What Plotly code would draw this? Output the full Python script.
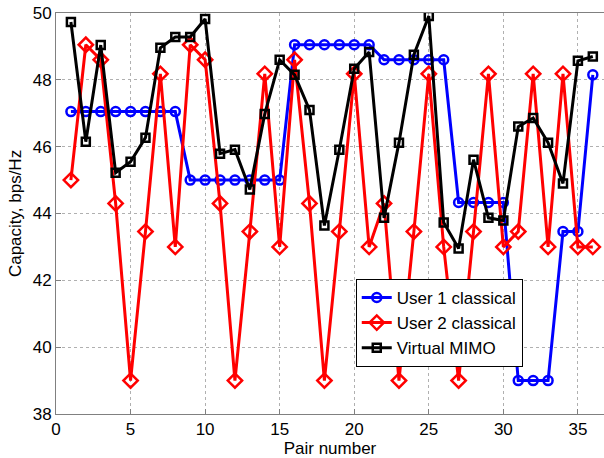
import plotly.graph_objects as go

pairs = list(range(1, 37))

user1 = [47.05, 47.05, 47.05, 47.05, 47.05, 47.05, 47.05, 47.05,
         45.0, 45.0, 45.0, 45.0, 45.0, 45.0, 45.0,
         49.05, 49.05, 49.05, 49.05, 49.05, 49.05,
         48.6, 48.6, 48.6, 48.6, 48.6,
         44.33, 44.33, 44.33, 44.33,
         39.0, 39.0, 39.0,
         43.46, 43.46, 48.15]

user2 = [45.0, 49.05, 48.6, 44.3, 39.0, 43.46, 48.18, 43.0,
         49.05, 48.6, 44.3, 39.0, 43.46, 48.18, 43.0,
         48.6, 44.3, 39.0, 43.46, 48.18, 43.0,
         44.3, 39.0, 43.46, 48.18, 43.0,
         39.0, 43.46, 48.18, 43.0,
         43.46, 48.18, 43.0, 48.18, 43.0, 43.0]

vmimo = [49.73, 46.15, 49.04, 45.22, 45.55, 46.27, 48.96, 49.28,
         49.28, 49.82, 45.79, 45.91, 44.72, 46.98, 48.6,
         48.15, 47.1, 43.64, 45.91, 48.33, 48.83,
         43.87, 46.12, 48.75, 49.91, 43.73,
         42.95, 45.61, 43.87, 43.79,
         46.6, 46.86, 46.12, 44.9, 48.57, 48.7]

series_names = ["User 1 classical", "User 2 classical", "Virtual MIMO"]
x_ticks = [0, 5, 10, 15, 20, 25, 30, 35]
y_ticks = [38, 40, 42, 44, 46, 48, 50]

font_family = "Liberation Sans, Arial, Helvetica, sans-serif"

fig = go.Figure()
fig.add_trace(go.Scatter(
    x=pairs, y=user1, name=series_names[0], mode="lines+markers",
    line=dict(color="#0000ff", width=3),
    marker=dict(symbol="circle-open", size=9, color="#0000ff", line=dict(width=2.5)),
))
fig.add_trace(go.Scatter(
    x=pairs, y=user2, name=series_names[1], mode="lines+markers",
    line=dict(color="#ff0000", width=3),
    marker=dict(symbol="diamond-open", size=11, color="#ff0000", line=dict(width=2.5)),
))
fig.add_trace(go.Scatter(
    x=pairs, y=vmimo, name=series_names[2], mode="lines+markers",
    line=dict(color="#000000", width=3),
    marker=dict(symbol="square-open", size=8, color="#000000", line=dict(width=2.5)),
))

fig.update_layout(
    width=604, height=458,
    margin=dict(l=56, r=0, t=13, b=44),
    paper_bgcolor="white", plot_bgcolor="white",
    font=dict(family=font_family, size=17, color="#000000"),
    showlegend=True,
    legend=dict(
        x=0.547, y=0.227, xanchor="left", yanchor="middle",
        bgcolor="white", bordercolor="#000000", borderwidth=1,
        font=dict(size=17, family=font_family),
        tracegroupgap=0,
    ),
    xaxis=dict(
        range=[0, 36.75], tickvals=x_ticks, ticktext=[str(v) for v in x_ticks],
        showgrid=True, gridcolor="#b0b0b0", griddash="dot", gridwidth=1,
        showline=True, linecolor="#808080", linewidth=1, mirror=True,
        ticks="inside", ticklen=5, tickcolor="#808080",
        zeroline=False, automargin=False, ticklabeloverflow="allow",
        title=dict(text="Pair number", font=dict(size=17), standoff=1),
        tickfont=dict(size=17),
    ),
    yaxis=dict(
        range=[38, 50], tickvals=y_ticks, ticktext=[str(v) for v in y_ticks],
        showgrid=True, gridcolor="#b0b0b0", griddash="dot", gridwidth=1,
        showline=True, linecolor="#808080", linewidth=1, mirror=True,
        ticks="inside", ticklen=5, tickcolor="#808080",
        zeroline=False, automargin=False, ticklabeloverflow="allow",
        title=dict(text="Capacity, bps/Hz", font=dict(size=17), standoff=6),
        tickfont=dict(size=17),
    ),
)

# remove the page's default 8px body margin so the figure fills the window
fig.write_html("out.html", config={"displayModeBar": False},
               post_script="document.body.style.margin='0px';")
